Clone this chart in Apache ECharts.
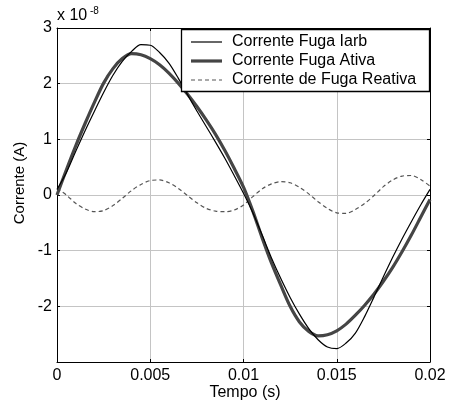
<!DOCTYPE html>
<html>
<head>
<meta charset="utf-8">
<script src="https://cdn.jsdelivr.net/npm/echarts@6/dist/echarts.min.js"></script>
<style>
html,body{margin:0;padding:0;background:#fff;}
#chart{width:451px;height:408px;}
</style>
</head>
<body>
<div id="chart"></div>
<script>
// Time (s)
var tempo = [0, 0.0005, 0.001, 0.0015, 0.002, 0.0025, 0.003, 0.0035, 0.004, 0.0045,
  0.005, 0.0055, 0.006, 0.0065, 0.007, 0.0075, 0.008, 0.0085, 0.009, 0.0095,
  0.01, 0.0105, 0.011, 0.0115, 0.012, 0.0125, 0.013, 0.0135, 0.014, 0.0145,
  0.015, 0.0155, 0.016, 0.0165, 0.017, 0.0175, 0.018, 0.0185, 0.019, 0.0195, 0.02];
// Values in units of 1e-8 A
var fugaIarb = [0.10, 0.40, 0.78, 1.15, 1.50, 1.84, 2.15, 2.40, 2.58, 2.70,
  2.69, 2.56, 2.37, 2.10, 1.80, 1.51, 1.23, 0.95, 0.66, 0.35,
  0.03, -0.32, -0.72, -1.13, -1.50, -1.84, -2.14, -2.40, -2.60, -2.73,
  -2.76, -2.66, -2.48, -2.18, -1.83, -1.47, -1.12, -0.79, -0.48, -0.18, 0.10];
var fugaAtiva = [0.00, 0.45, 0.88, 1.28, 1.66, 2.01, 2.27, 2.45, 2.54, 2.52,
  2.45, 2.34, 2.19, 2.01, 1.81, 1.59, 1.35, 1.09, 0.80, 0.48,
  0.14, -0.29, -0.77, -1.22, -1.62, -2.00, -2.28, -2.45, -2.53, -2.51,
  -2.44, -2.32, -2.16, -1.98, -1.78, -1.55, -1.30, -1.02, -0.72, -0.40, -0.08];
var fugaReativa = [0.12, 0.00, -0.15, -0.25, -0.30, -0.28, -0.19, -0.06, 0.08, 0.19,
  0.26, 0.27, 0.22, 0.12, -0.01, -0.14, -0.24, -0.29, -0.30, -0.27,
  -0.18, -0.03, 0.11, 0.20, 0.24, 0.22, 0.14, 0.02, -0.12, -0.24,
  -0.32, -0.33, -0.26, -0.15, -0.01, 0.15, 0.27, 0.34, 0.35, 0.28, 0.16];
var seriesNames = ['Corrente Fuga Iarb', 'Corrente Fuga Ativa', 'Corrente de Fuga Reativa'];
var xTicks = [0, 0.005, 0.01, 0.015, 0.02];
var yTicks = [-3, -2, -1, 0, 1, 2, 3];

function pairs(vals) { return tempo.map(function (t, i) { return [t, vals[i]]; }); }

var FONT = 'Liberation Sans, Arial, sans-serif';
var styles = [
  {color: '#000', width: 1.2, type: 'solid'},
  {color: '#454545', width: 3.2, type: 'solid'},
  {color: '#555', width: 1.2, type: [4, 3]}
];
var chart = echarts.init(document.getElementById('chart'), null, {renderer: 'canvas'});
var gridLine = {show: true, lineStyle: {color: '#c4c4c4', width: 1}};

// legend drawn as graphic elements
var legendX = 181, legendY = 29, legendW = 248, legendH = 62, rowH = 19;
var legendEls = [{type: 'rect', z: 100, shape: {x: legendX + 0.5, y: legendY + 0.5, width: legendW, height: legendH},
  style: {fill: '#fff', stroke: '#000', lineWidth: 1.3}}];
seriesNames.forEach(function (n, i) {
  var cy = legendY + 13 + i * rowH;
  var s = styles[i];
  legendEls.push({type: 'line', z: 101, shape: {x1: legendX + 10, y1: cy, x2: legendX + 41, y2: cy},
    style: {stroke: s.color, lineWidth: s.width, lineDash: Array.isArray(s.type) ? s.type : null}});
  legendEls.push({type: 'text', z: 101, x: legendX + 51, y: cy, style: {text: n, fill: '#000',
    font: '16px ' + FONT, verticalAlign: 'middle', align: 'left'}});
});

var opt = {
  animation: false,
  backgroundColor: '#fff',
  textStyle: {fontFamily: FONT},
  grid: {left: 57, right: 21, top: 28, bottom: 46, containLabel: false},
  xAxis: [{
    type: 'value', min: xTicks[0], max: xTicks[xTicks.length - 1], interval: 0.005,
    axisLine: {show: true, onZero: false, lineStyle: {color: '#000', width: 1}},
    axisTick: {inside: true, length: 3, lineStyle: {color: '#000'}},
    axisLabel: {color: '#000', fontSize: 16, fontFamily: FONT, margin: 6,
      formatter: function (v) { return String(+v.toFixed(3)); }},
    splitLine: gridLine
  }, {
    type: 'value', position: 'top', min: xTicks[0], max: xTicks[xTicks.length - 1], interval: 0.005,
    axisLine: {show: true, onZero: false, lineStyle: {color: '#000', width: 1}},
    axisTick: {inside: true, length: 3, lineStyle: {color: '#000'}},
    axisLabel: {show: false}, splitLine: {show: false}
  }],
  yAxis: [{
    type: 'value', min: yTicks[0], max: yTicks[yTicks.length - 1], interval: 1,
    axisLine: {show: true, onZero: false, lineStyle: {color: '#000', width: 1}},
    axisTick: {show: true, inside: true, length: 3, lineStyle: {color: '#000'}},
    axisLabel: {color: '#000', fontSize: 16, fontFamily: FONT, margin: 5,
      formatter: function (v) { return v === -3 ? '' : String(v); }},
    splitLine: gridLine
  }, {
    type: 'value', position: 'right', min: yTicks[0], max: yTicks[yTicks.length - 1], interval: 1,
    axisLine: {show: true, onZero: false, lineStyle: {color: '#000', width: 1}},
    axisTick: {show: true, inside: true, length: 3, lineStyle: {color: '#000'}},
    axisLabel: {show: false}, splitLine: {show: false}
  }],
  graphic: [
    {type: 'text', x: 57, y: 24, style: {
      text: 'x 10', fill: '#000', font: '16px ' + FONT, verticalAlign: 'bottom'
    }},
    {type: 'text', x: 90, y: 6, style: {
      text: '-8', fill: '#000', font: '10px ' + FONT, verticalAlign: 'top'
    }},
    {type: 'text', x: 20, y: 183, rotation: Math.PI / 2, style: {
      text: 'Corrente (A)', fill: '#000', font: '15px ' + FONT, align: 'center', verticalAlign: 'middle'
    }},
    {type: 'text', x: 245, y: 393, style: {
      text: 'Tempo (s)', fill: '#000', font: '16px ' + FONT, align: 'center', verticalAlign: 'middle'
    }},
    {type: 'group', z: 100, children: legendEls}
  ],
  series: seriesNames.map(function (n, i) {
    var vals = [fugaIarb, fugaAtiva, fugaReativa][i];
    return {name: n, type: 'line', data: pairs(vals), symbol: 'none', smooth: 0.3,
      lineStyle: styles[i], itemStyle: {color: styles[i].color}, z: 4 - i};
  })
};
chart.setOption(opt);
</script>
</body>
</html>
